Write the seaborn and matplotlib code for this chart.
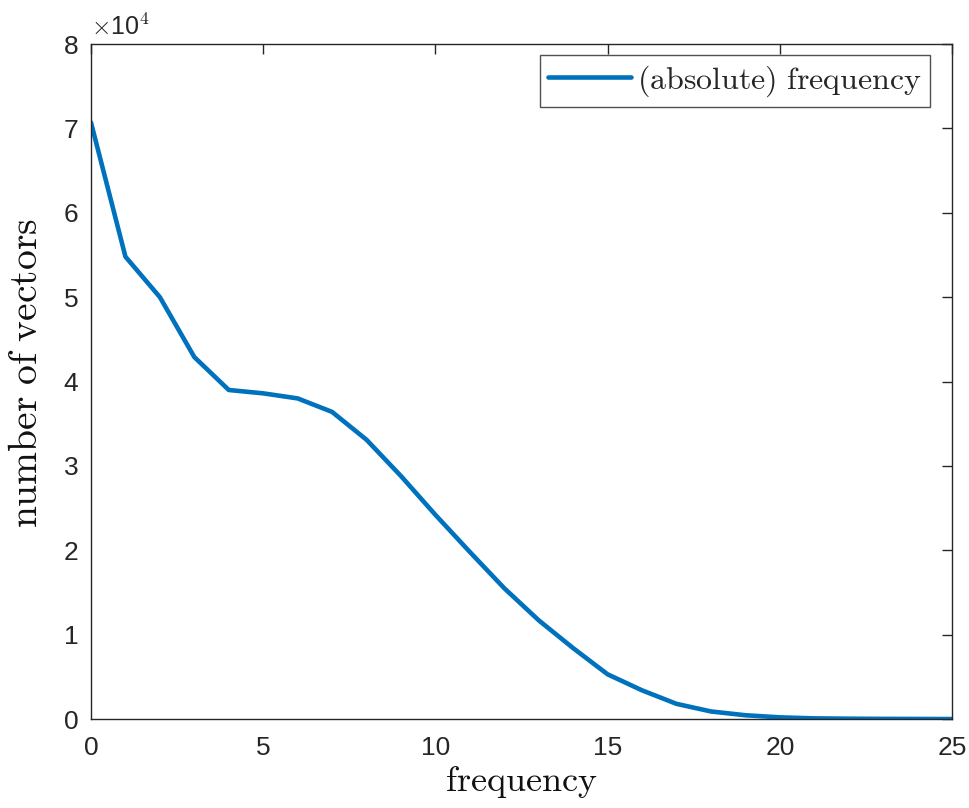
import matplotlib
matplotlib.use("Agg")
import matplotlib.pyplot as plt
import seaborn as sns
import pandas as pd
from matplotlib.ticker import FuncFormatter, MultipleLocator

freq = list(range(26))
counts = [70700, 54800, 50000, 42900, 39000, 38600, 38000, 36400, 33100, 28800,
          24200, 19800, 15500, 11700, 8400, 5300, 3400, 1800, 900, 450,
          200, 80, 40, 20, 10, 0]
series_label = "(absolute) frequency"

sns.set_theme(style="white")
plt.rcParams['font.family'] = ['Liberation Sans', 'DejaVu Sans']
plt.rcParams['mathtext.fontset'] = 'cm'

df = pd.DataFrame({"frequency": freq, "count": counts})

fig = plt.figure(figsize=(9.69, 8.08), dpi=100)
ax = fig.add_axes([0.0939, 0.1101, 0.8886, 0.8354])
sns.lineplot(data=df, x="frequency", y="count", ax=ax, color="#0072BD",
             linewidth=3.3, label=series_label)

ax.set_xlim(0, 25)
ax.set_ylim(0, 80000)
ax.xaxis.set_major_locator(MultipleLocator(5))
ax.yaxis.set_major_locator(MultipleLocator(10000))
ax.yaxis.set_major_formatter(FuncFormatter(lambda v, p: f"{v/1e4:g}"))
ax.tick_params(axis='both', which='major', direction='in', length=7, width=1,
               color='#262626', labelsize=19, labelcolor='#262626',
               top=True, right=True)
ax.tick_params(axis='x', pad=12)
ax.tick_params(axis='y', pad=9)
for s in ax.spines.values():
    s.set_color('#262626')
    s.set_linewidth(1.0)
    s.set_visible(True)

ax.set_xlabel(r"$\mathrm{frequency}$", fontsize=26, labelpad=3, color='#111111')
ax.set_ylabel(r"$\mathrm{number\ of\ vectors}$", fontsize=28.5, color='#111111')
ax.yaxis.set_label_coords(-0.053, 0.513)
ax.text(0.0, 1.006, r"$\times$10$^4$", transform=ax.transAxes, fontsize=18,
        color='#262626', ha='left', va='bottom')

leg = ax.legend(loc='upper right', bbox_to_anchor=(0.9744, 0.9837),
                frameon=True, fancybox=False,
                edgecolor='#262626', handlelength=2.6, borderpad=0.25,
                handletextpad=0.2, borderaxespad=0.0,
                prop={'family': 'DejaVu Serif', 'size': 23})
leg.get_frame().set_linewidth(1.0)
for t in leg.get_texts():
    t.set_text(r"$\mathrm{(absolute)\ frequency}$")

fig.savefig("out.png", dpi=100)
